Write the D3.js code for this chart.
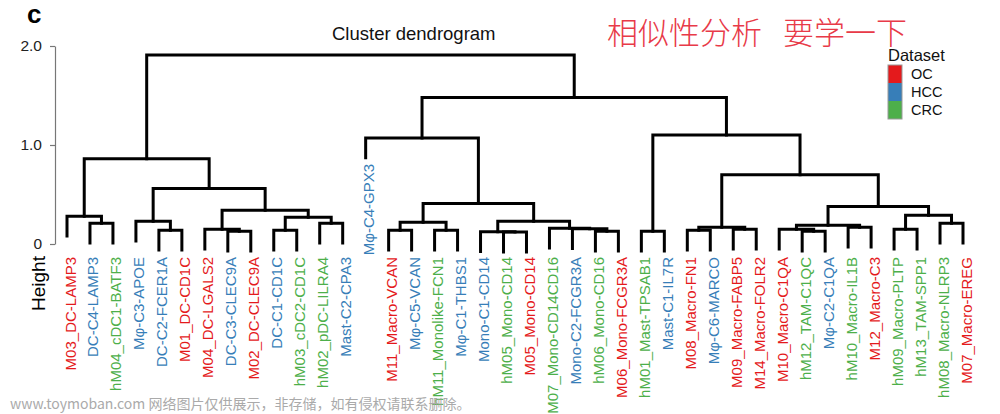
<!DOCTYPE html>
<html>
<head>
<meta charset="utf-8">
<script src="https://cdn.jsdelivr.net/npm/d3@7"></script>
<style>
  html, body { margin: 0; padding: 0; background: #fff; }
  svg { display: block; }
</style>
</head>
<body>
<svg id="chart" width="1000" height="414"></svg>
<script>
// ---------- data ----------
const leafLabels = [
  "M03_DC-LAMP3", "DC-C4-LAMP3", "hM04_cDC1-BATF3", "Mφ-C3-APOE", "DC-C2-FCER1A",
  "M01_DC-CD1C", "M04_DC-LGALS2", "DC-C3-CLEC9A", "M02_DC-CLEC9A", "DC-C1-CD1C",
  "hM03_cDC2-CD1C", "hM02_pDC-LILRA4", "Mast-C2-CPA3", "Mφ-C4-GPX3", "M11_Macro-VCAN",
  "Mφ-C5-VCAN", "hM11_Monolike-FCN1", "Mφ-C1-THBS1", "Mono-C1-CD14", "hM05_Mono-CD14",
  "M05_Mono-CD14", "hM07_Mono-CD14CD16", "Mono-C2-FCGR3A", "hM06_Mono-CD16", "M06_Mono-FCGR3A",
  "hM01_Mast-TPSAB1", "Mast-C1-IL7R", "M08_Macro-FN1", "Mφ-C6-MARCO", "M09_Macro-FABP5",
  "M14_Macro-FOLR2", "M10_Macro-C1QA", "hM12_TAM-C1QC", "Mφ-C2-C1QA", "hM10_Macro-IL1B",
  "M12_Macro-C3", "hM09_Macro-PLTP", "hM13_TAM-SPP1", "hM08_Macro-NLRP3", "M07_Macro-EREG"
];
const leafDataset = [
  "OC","HCC","CRC","HCC","HCC","OC","OC","HCC","OC","HCC",
  "CRC","CRC","HCC","HCC","OC","HCC","CRC","HCC","HCC","CRC",
  "OC","CRC","HCC","CRC","OC","CRC","HCC","OC","HCC","OC",
  "OC","OC","CRC","HCC","CRC","OC","CRC","CRC","CRC","OC"
];
// hclust-style merge list: negative = leaf (1-based), positive = earlier merge (1-based)
const mergePairs = [
  [-2,-3],[-1,1],[-5,-6],[-4,3],[-8,-9],[-7,5],[-10,-11],[-12,-13],[7,8],[6,9],
  [4,10],[2,11],[-15,-16],[-17,-18],[13,14],[-20,-21],[-19,16],[-24,-25],[-23,18],[-22,19],
  [17,20],[15,21],[-14,22],[-26,-27],[-28,-29],[-30,-31],[25,26],[-33,-34],[-32,28],[-35,-36],
  [29,30],[-37,-38],[-39,-40],[32,33],[31,34],[27,35],[24,36],[23,37],[12,38]
];
const mergeHeights = [
  0.21,0.28,0.14,0.23,0.13,0.15,0.14,0.21,0.27,0.34,
  0.56,0.86,0.14,0.14,0.22,0.12,0.125,0.13,0.155,0.16,
  0.23,0.41,1.07,0.13,0.14,0.15,0.17,0.13,0.15,0.17,
  0.19,0.15,0.21,0.29,0.38,0.70,1.10,1.48,1.91
];
const hang = 0.2;
const yTicks = [0, 1, 2];
const yTickLabels = ["0", "1.0", "2.0"];
const datasets = ["OC", "HCC", "CRC"];
const datasetColors = ["#E41A1C", "#377EB8", "#4DAF4A"];

// ---------- build hierarchy ----------
function buildNode(ref) {
  if (ref < 0) return { leaf: -ref - 1, height: null };
  const pair = mergePairs[ref - 1];
  return { height: mergeHeights[ref - 1], children: pair.map(buildNode) };
}
const root = d3.hierarchy(buildNode(mergePairs.length));

const svg = d3.select("#chart");
const x = d3.scaleLinear().domain([0, leafLabels.length - 1]).range([67, 963]);
const y = d3.scaleLinear().domain([0, 2]).range([244, 46]);
const color = d3.scaleOrdinal().domain(datasets).range(datasetColors);
const latin = "'Liberation Sans', Arial, sans-serif";

// positions (R plot.hclust style: node x = mean of children x)
root.eachAfter(n => {
  if (!n.children) n.px = x(n.data.leaf);
  else n.px = (n.children[0].px + n.children[1].px) / 2;
});
root.eachBefore(n => {
  if (!n.children) n.bottom = n.parent.data.height - hang;
});

// ---------- dendrogram ----------
const g = svg.append("g");
root.descendants().filter(n => n.children).forEach(n => {
  const [a, b] = n.children;
  const ya = a.children ? a.data.height : a.bottom;
  const yb = b.children ? b.data.height : b.bottom;
  g.append("path")
    .attr("d", `M${a.px},${y(ya)}V${y(n.data.height)}H${b.px}V${y(yb)}`)
    .attr("fill", "none")
    .attr("stroke", "#000")
    .attr("stroke-width", 3)
    .attr("stroke-linecap", "square");
});

// ---------- leaf labels ----------
root.leaves().forEach(n => {
  const bottomY = y(n.bottom);
  const ly = bottomY < y(0) - 30 ? bottomY + 6 : 257;
  svg.append("text")
    .attr("transform", `translate(${n.px + 8.5},${ly}) rotate(-90)`)
    .attr("text-anchor", "end")
    .attr("font-family", latin)
    .attr("font-size", 15)
    .attr("fill", color(leafDataset[n.data.leaf]))
    .text(leafLabels[n.data.leaf]);
});

// ---------- y axis ----------
const axis = d3.axisLeft(y).tickValues(yTicks)
  .tickFormat((d, i) => yTickLabels[i]).tickSize(5).tickSizeOuter(0).tickPadding(8);
const ag = svg.append("g").attr("transform", "translate(55,0)").call(axis);
ag.select(".domain").attr("stroke", "#777").attr("stroke-width", 1.2);
ag.selectAll(".tick line").attr("stroke", "#777").attr("stroke-width", 1.2);
ag.selectAll(".tick text").attr("font-family", latin)
  .attr("font-size", 15.5).attr("fill", "#222");

svg.append("text")
  .attr("transform", "translate(45,283.5) rotate(-90)")
  .attr("text-anchor", "middle")
  .attr("font-family", latin)
  .attr("font-size", 19).attr("fill", "#000")
  .text("Height");

// ---------- titles ----------
svg.append("text")
  .attr("x", 27).attr("y", 23)
  .attr("font-family", latin)
  .attr("font-size", 26).attr("font-weight", 900).attr("fill", "#000")
  .text("c");

svg.append("text")
  .attr("x", 332).attr("y", 40)
  .attr("font-family", latin)
  .attr("font-size", 18.5).attr("fill", "#111")
  .text("Cluster dendrogram");

svg.append("text")
  .attr("x", 607).attr("y", 44)
  .attr("font-family", "'Noto Sans CJK SC', sans-serif")
  .attr("font-size", 31).attr("font-weight", 200).attr("fill", "#E83A48")
  .text("相似性分析");
svg.append("text")
  .attr("x", 783).attr("y", 44)
  .attr("font-family", "'Noto Sans CJK SC', sans-serif")
  .attr("font-size", 31).attr("font-weight", 200).attr("fill", "#E83A48")
  .text("要学一下");

// ---------- legend ----------
const lg = svg.append("g").attr("transform", "translate(888,0)");
lg.append("text").attr("x", 0).attr("y", 61)
  .attr("font-family", latin)
  .attr("font-size", 16.5).attr("fill", "#111").text("Dataset");
datasets.forEach((d, i) => {
  lg.append("rect").attr("x", 0).attr("y", 65 + i * 18).attr("width", 14).attr("height", 18)
    .attr("fill", color(d));
  lg.append("text").attr("x", 23).attr("y", 78.5 + i * 18)
    .attr("font-family", latin)
    .attr("font-size", 14.5).attr("fill", "#111").text(d);
});
lg.append("rect").attr("x", 0).attr("y", 65).attr("width", 14).attr("height", 54)
  .attr("fill", "none").attr("stroke", "#999").attr("stroke-width", 1);

// ---------- watermark ----------
svg.append("text")
  .attr("x", 10).attr("y", 409)
  .attr("font-family", "'Noto Sans CJK SC', sans-serif")
  .attr("font-size", 14).attr("fill", "#aaa")
  .text("www.toymoban.com 网络图片仅供展示，非存储，如有侵权请联系删除。");
</script>
</body>
</html>
